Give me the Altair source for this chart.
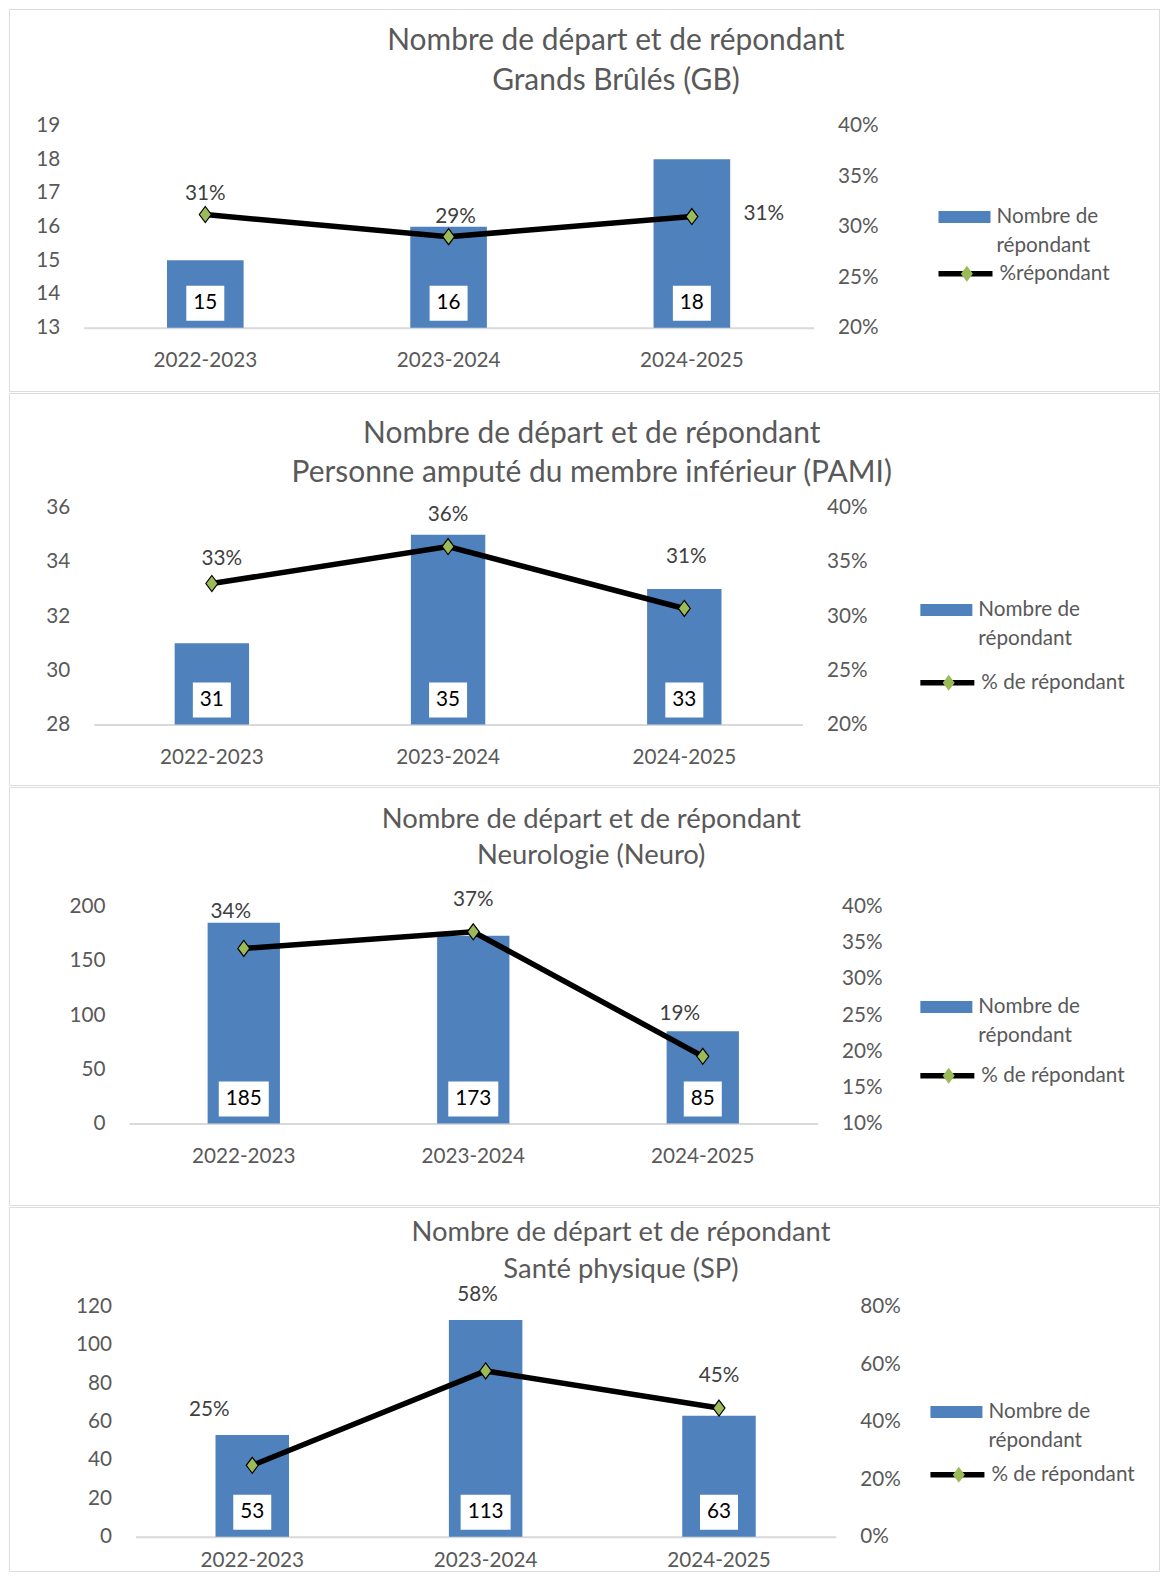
import altair as alt
import pandas as pd

# ---------------- data ----------------
CATS = ["2022-2023", "2023-2024", "2024-2025"]
TITLE_LINE1 = "Nombre de départ et de répondant"
SUBTITLES = [
    "Grands Brûlés (GB)",
    "Personne amputé du membre inférieur (PAMI)",
    "Neurologie (Neuro)",
    "Santé physique (SP)",
]
BAR_NAME_LINES = ["Nombre de", "répondant"]
LINE_NAMES = ["%répondant", "% de répondant", "% de répondant", "% de répondant"]

GB_N = [15, 16, 18]
GB_PCT = [0.312, 0.290, 0.310]
PAMI_N = [31, 35, 33]
PAMI_PCT = [0.330, 0.364, 0.307]
NEURO_N = [185, 173, 85]
NEURO_PCT = [0.342, 0.365, 0.193]
SP_N = [53, 113, 63]
SP_PCT = [0.248, 0.576, 0.447]

LEFT_TICKS = [
    [13, 14, 15, 16, 17, 18, 19],
    [28, 30, 32, 34, 36],
    [0, 50, 100, 150, 200],
    [0, 20, 40, 60, 80, 100, 120],
]
RIGHT_TICKS = [
    [0.20, 0.25, 0.30, 0.35, 0.40],
    [0.20, 0.25, 0.30, 0.35, 0.40],
    [0.10, 0.15, 0.20, 0.25, 0.30, 0.35, 0.40],
    [0.0, 0.2, 0.4, 0.6, 0.8],
]
NS = [GB_N, PAMI_N, NEURO_N, SP_N]
PCTS = [GB_PCT, PAMI_PCT, NEURO_PCT, SP_PCT]

# ---------------- style ----------------
FONT = "Lato"
GRAY = "#595959"
DARK = "#404040"
BLUE = "#4F81BD"
GREEN = "#9BBB59"
BORDER = "#d9d9d9"
W = 1150
SX, SY = 0.992, 0.995          # page-to-picture factors observed in the renders
DIAMOND = "M0,-1L0.75,0L0,1L-0.75,0Z"
BOX2 = "M-0.76,-1.68H0.76V-0.28H-0.76Z"
BOX3 = "M-1,-1.68H1V-0.28H-1Z"
RECT_SYM = "M-1,-0.23H1V0.23H-1Z"
FS = 20.7

PANEL_TOPS = [8, 390, 782, 1200]
PANEL_H = [382, 392, 418, 364]


def vx(p):
    return p / SX - 8


def vy(p, i):
    return p / SY - PANEL_TOPS[i]


# layout targets (picture coordinates)
STYLE = [
    dict(x0=82, x1=806, base=325, top=124, tfs=29.9, tlh=39.2, tline2=77, tcx=610,
         legx=930, bar_leg=215, line_leg=271, xpad=23,
         offs=[(0, -21), (7, -20), (72, -3)]),
    dict(x0=92, x1=795, base=718, top=502, tfs=29.9, tlh=38.2, tline2=465, tcx=586,
         legx=912, bar_leg=604, line_leg=676, xpad=23,
         offs=[(10, -25), (0, -32), (2, -51)]),
    dict(x0=127, x1=810, base=1113, top=897, tfs=27.4, tlh=36.2, tline2=845, tcx=585.5,
         legx=912, bar_leg=997, line_leg=1065, xpad=23,
         offs=[(-13, -36), (0, -32), (-23, -42)]),
    dict(x0=133.5, x1=828, base=1522, top=1293, tfs=27.4, tlh=36.2, tline2=1254, tcx=615,
         legx=922, bar_leg=1398, line_leg=1460, xpad=14,
         offs=[(-43, -55), (-8, -76), (0, -32)]),
]


def legend_common():
    return dict(orient="none", title=None, labelFont=FONT, labelFontSize=FS,
                labelColor=GRAY, labelLimit=400, padding=0)


def make_panel(i):
    st = STYLE[i]
    h = PANEL_H[i]
    xr = [vx(st["x0"]), vx(st["x1"])]
    yrng = [vy(st["base"], i), vy(st["top"], i)]
    legx = vx(st["legx"])
    bar_leg = vy(st["bar_leg"], i)
    line_leg = vy(st["line_leg"], i)
    tline2 = vy(st["tline2"], i)
    tdx = vx(st["tcx"]) - W / 2

    lo, hi = LEFT_TICKS[i][0], LEFT_TICKS[i][-1]
    rlo, rhi = RIGHT_TICKS[i][0], RIGHT_TICKS[i][-1]
    df = pd.DataFrame({"cat": CATS, "n": NS[i], "p": PCTS[i]})
    df["base"] = lo
    df["bar"] = BAR_NAME_LINES[0]
    df["bar2"] = BAR_NAME_LINES[1]
    df["l1"] = LINE_NAMES[i]
    df["l2"] = LINE_NAMES[i]

    x = alt.X(
        "cat:N", sort=CATS, title=None,
        scale=alt.Scale(range=xr, paddingInner=0.685, paddingOuter=0.3425),
        axis=alt.Axis(orient="bottom", offset=yrng[0] - h, labelAngle=0,
                      ticks=False, domainColor=BORDER, domainWidth=2,
                      labelPadding=st["xpad"], labelFont=FONT, labelFontSize=FS,
                      labelColor=GRAY, grid=False),
    )
    lscale = alt.Scale(domain=[lo, hi], range=yrng, zero=False, nice=False)
    laxis = alt.Axis(orient="left", offset=-xr[0], values=LEFT_TICKS[i], grid=False,
                     domain=False, ticks=False, labelPadding=24, labelFont=FONT,
                     labelFontSize=FS, labelColor=GRAY, title=None)
    rscale = alt.Scale(domain=[rlo, rhi], range=yrng, zero=False, nice=False)
    raxis = alt.Axis(orient="right", offset=xr[1] - W, values=RIGHT_TICKS[i],
                     format=".0%", grid=False, domain=False, ticks=False, labelPadding=24,
                     labelFont=FONT, labelFontSize=FS, labelColor=GRAY, title=None)

    def yl(field):
        return alt.Y(field, scale=lscale, axis=laxis, title=None)

    def yr(field):
        return alt.Y(field, scale=rscale, axis=raxis, title=None)

    base = alt.Chart(df)
    bars = base.mark_bar().encode(
        x=x, y=yl("n:Q"), y2=alt.Y2("base:Q"),
        fill=alt.Fill("bar:N", scale=alt.Scale(range=[BLUE]), legend=alt.Legend(
            legendX=legx, legendY=bar_leg - 26,
            symbolType=RECT_SYM, symbolSize=2704, symbolStrokeWidth=0, labelOffset=6,
            **legend_common())),
    )
    # invisible layer carrying the second line of the bar legend text
    ghost = base.mark_point(filled=True, color="white", size=0, opacity=0).encode(
        x=x, y=yl("base:Q"),
        opacity=alt.Opacity("bar2:N", scale=alt.Scale(range=[0]), legend=alt.Legend(
            legendX=legx, legendY=bar_leg + 29 - 26,
            symbolType=RECT_SYM, symbolSize=2704, symbolStrokeWidth=0,
            symbolFillColor="white", symbolStrokeColor="white", symbolOpacity=0,
            labelOffset=6, **legend_common())),
    )
    box2 = base.transform_filter("datum.n < 100").mark_point(
        shape=BOX2, filled=True, color="white", opacity=1, size=2500, strokeWidth=0
    ).encode(x=x, y=yl("base:Q"))
    box3 = base.transform_filter("datum.n >= 100").mark_point(
        shape=BOX3, filled=True, color="white", opacity=1, size=2500, strokeWidth=0
    ).encode(x=x, y=yl("base:Q"))
    vals = base.mark_text(dy=-24.5, font=FONT, fontSize=FS, color="black",
                          baseline="middle").encode(x=x, y=yl("base:Q"), text="n:Q")
    bar_group = alt.layer(bars, ghost, box2, box3, vals)

    line = base.mark_line(strokeWidth=5.5, color="black").encode(
        x=x, y=yr("p:Q"),
        stroke=alt.Stroke("l1:N", scale=alt.Scale(range=["black"]), legend=alt.Legend(
            legendX=legx - 3, legendY=line_leg - 29.6,
            symbolType="stroke", symbolSize=2916, symbolStrokeWidth=5.5,
            symbolStrokeColor="black", labelOffset=4, **legend_common())),
    )
    pts = base.mark_point(filled=True, color=GREEN, stroke="black", strokeWidth=1.2,
                          size=256, opacity=1).encode(
        x=x, y=yr("p:Q"),
        shape=alt.Shape("l2:N", scale=alt.Scale(range=[DIAMOND]), legend=alt.Legend(
            legendX=legx + 18, legendY=line_leg - 10,
            symbolSize=256, symbolFillColor=GREEN, symbolStrokeColor="black",
            symbolStrokeWidth=1.2, labelExpr="''", **legend_common())),
    )
    labels = []
    for k, (dx, dy) in enumerate(st["offs"]):
        labels.append(
            base.transform_filter(alt.datum.cat == CATS[k]).mark_text(
                dx=dx, dy=dy, font=FONT, fontSize=FS, color=DARK, baseline="middle"
            ).encode(x=x, y=yr("p:Q"), text=alt.Text("p:Q", format=".0%"))
        )
    line_group = alt.layer(line, pts, *labels)

    return alt.layer(bar_group, line_group).resolve_scale(y="independent").properties(
        width=W, height=h,
        title=alt.TitleParams(
            text=[TITLE_LINE1, SUBTITLES[i]], anchor="middle", frame="group",
            offset=-(tline2 + 16 * st["tfs"] / 28), dx=tdx,
            font=FONT, fontSize=st["tfs"], fontWeight="normal", color=GRAY,
            lineHeight=st["tlh"]),
    )


chart = alt.vconcat(*[make_panel(i) for i in range(4)], spacing=0).resolve_scale(
    fill="independent", stroke="independent", shape="independent", opacity="independent"
).resolve_legend(
    fill="independent", stroke="independent", shape="independent", opacity="independent"
).properties(padding=0).configure_view(stroke=BORDER, strokeWidth=2).configure(
    background="white"
)

chart.save("out.html", embed_options={"renderer": "svg", "actions": False})
